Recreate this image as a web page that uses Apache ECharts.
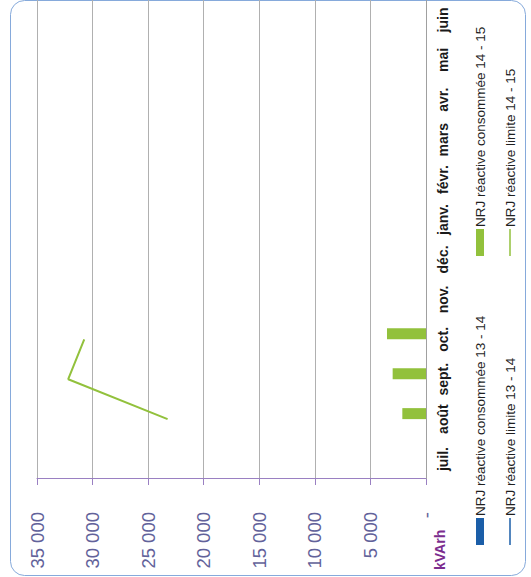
<!DOCTYPE html>
<html>
<head>
<meta charset="utf-8">
<script src="https://cdn.jsdelivr.net/npm/echarts@6/dist/echarts.min.js"></script>
<style>
  html, body { margin: 0; padding: 0; background: #fff; overflow: hidden; width: 531px; height: 577px; }
  /* the chart is drawn upright then turned a quarter turn to the left */
  #chart { position: absolute; left: 0; top: 0; width: 577px; height: 531px;
           transform-origin: 0 0; transform: translate(0px, 577px) rotate(-90deg); }
</style>
</head>
<body>
<div id="chart"></div>
<script>
var months = ['juil.', 'août', 'sept.', 'oct.', 'nov.', 'déc.', 'janv.', 'févr.', 'mars', 'avr.', 'mai', 'juin'];
var conso1314 = [null, null, null, null, null, null, null, null, null, null, null, null];
var conso1415 = [null, 2130, 3000, 3510, null, null, null, null, null, null, null, null];
var limite1314 = [null, null, null, null, null, null, null, null, null, null, null, null];
var limite1415 = [null, 23250, 32190, 30750, null, null, null, null, null, null, null, null];
var seriesNames = ['NRJ réactive consommée 13 - 14', 'NRJ réactive limite 13 - 14',
                   'NRJ réactive consommée 14 - 15', 'NRJ réactive limite 14 - 15'];

var BLUE = '#1b5ea8', GREEN = '#92c13c';

// one legend per entry so the two columns line up like the original
function legendAt(name, left, top, h) {
    return {
        data: [name], left: left, top: top, padding: 0,
        icon: 'rect', itemWidth: 27, itemHeight: h,
        textStyle: { fontFamily: 'Liberation Sans', fontSize: 13.5, color: '#1f1f1f', padding: [0, 0, 0, -3] }
    };
}

var option = {
    animation: false,
    grid: { left: 98, right: -1, top: 37, bottom: 105 },
    legend: [
        legendAt(seriesNames[0], 32, 473, 8),
        legendAt(seriesNames[1], 32, 503, 1.5),
        legendAt(seriesNames[2], 321, 473, 8),
        legendAt(seriesNames[3], 321, 503, 1.5)
    ],
    xAxis: {
        type: 'category', data: months,
        axisLine: { lineStyle: { color: '#a0a0a0', width: 1 } },
        axisTick: { length: 5, lineStyle: { color: '#a0a0a0' } },
        axisLabel: { interval: 0, margin: 10, fontFamily: 'Liberation Sans', fontSize: 14, fontWeight: 'bold', color: '#1a1a1a' }
    },
    yAxis: {
        type: 'value', min: 0, max: 35000, interval: 5000,
        axisLine: { show: true, lineStyle: { color: '#9a80c2', width: 1 } },
        axisTick: { show: true, length: 6, lineStyle: { color: '#9a80c2' } },
        splitLine: { lineStyle: { color: '#b0b0b0', width: 1 } },
        axisLabel: {
            margin: 33, fontFamily: 'Liberation Sans', fontSize: 18.5, color: '#62629a',
            formatter: function (v) { return v === 0 ? '-' : String(v).replace(/\B(?=(\d{3})+(?!\d))/g, ' '); }
        }
    },
    graphic: [
        { type: 'rect', silent: true, z: -1,
          shape: { x: 1.5, y: 10.5, width: 575, height: 515, r: 14 },
          style: { fill: 'none', stroke: '#86aadb', lineWidth: 1 } },
        { type: 'text', silent: true, x: 7, y: 440,
          style: { text: 'kVArh', font: 'bold 14px "Liberation Sans"', fill: '#7b2c8e', verticalAlign: 'middle' } }
    ],
    series: [
        { name: seriesNames[0], type: 'bar', data: conso1314, barWidth: 11, barGap: 0, itemStyle: { color: BLUE } },
        { name: seriesNames[2], type: 'bar', data: conso1415, barWidth: 11, barGap: 0, itemStyle: { color: GREEN } },
        { name: seriesNames[1], type: 'line', data: limite1314, symbol: 'none', lineStyle: { color: BLUE, width: 2 }, itemStyle: { color: BLUE } },
        { name: seriesNames[3], type: 'line', data: limite1415, symbol: 'none', lineStyle: { color: GREEN, width: 2 }, itemStyle: { color: GREEN } }
    ]
};

var myChart = echarts.init(document.getElementById('chart'), null, { renderer: 'svg' });
myChart.setOption(option);
</script>
</body>
</html>
